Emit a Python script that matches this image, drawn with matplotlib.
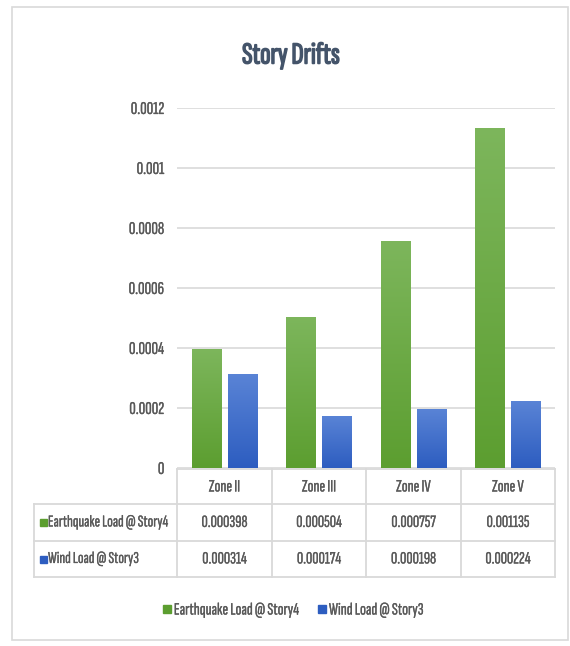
import matplotlib

matplotlib.use("Agg")
import matplotlib.patheffects as pe  # noqa: E402
import matplotlib.pyplot as plt  # noqa: E402
import numpy as np  # noqa: E402
from matplotlib.colors import LinearSegmentedColormap  # noqa: E402
from matplotlib.lines import Line2D  # noqa: E402
from matplotlib.patches import Rectangle  # noqa: E402
from matplotlib.transforms import blended_transform_factory  # noqa: E402

zones = ["Zone II", "Zone III", "Zone IV", "Zone V"]
earthquake = [0.000398, 0.000504, 0.000757, 0.001135]
wind = [0.000314, 0.000174, 0.000198, 0.000224]
series_names = ["Earthquake Load @ Story4", "Wind Load @ Story3"]
y_ticks = [0, 0.0002, 0.0004, 0.0006, 0.0008, 0.001, 0.0012]
y_tick_labels = ["0", "0.0002", "0.0004", "0.0006", "0.0008", "0.001", "0.0012"]

GREEN_TOP, GREEN_BOTTOM = "#7db65c", "#5c9e30"
BLUE_TOP, BLUE_BOTTOM = "#5a84d6", "#2d5dc0"
TEXT = "#595959"
TITLE = "#44546a"
GRID = "#d9d9d9"
FS = 12.5

plt.rcParams["font.family"] = ["Sofia Sans Extra Condensed", "DejaVu Sans"]

# the condensed face is light, so thicken the glyphs a little
THICK = [pe.withStroke(linewidth=0.2, foreground=TEXT)]
TITLE_THICK = [pe.withStroke(linewidth=1.1, foreground=TITLE)]

W, H = 570, 646
fig = plt.figure(figsize=(W / 100, H / 100), dpi=100, facecolor="white")


def fx(px):
    return px / W


def fy(py):
    return 1 - py / H


def shade(ax, bars, top, bottom):
    # vertical gradient fill clipped to each bar
    cmap = LinearSegmentedColormap.from_list("grad", [bottom, top])
    grad = np.linspace(0, 1, 256).reshape(-1, 1)
    for bar in bars:
        x0, y0 = bar.get_x(), bar.get_y()
        w, h = bar.get_width(), bar.get_height()
        im = ax.imshow(grad, cmap=cmap, origin="lower", aspect="auto",
                       extent=(x0, x0 + w, y0, y0 + h),
                       interpolation="bilinear", zorder=bar.get_zorder() + 0.1)
        im.set_clip_path(bar)


# outer chart frame
fig.add_artist(Rectangle((fx(12), fy(640)), fx(568) - fx(12), fy(7) - fy(640),
                         transform=fig.transFigure, fill=False,
                         edgecolor=GRID, linewidth=1.2))

ax = fig.add_axes([fx(177), fy(468), fx(555) - fx(177), 360 / H])
x = np.arange(len(zones))
width, offset = 0.31, 0.19
eq_bars = ax.bar(x - offset, earthquake, width, color=GREEN_BOTTOM, zorder=3)
wind_bars = ax.bar(x + offset, wind, width, color=BLUE_BOTTOM, zorder=3)
shade(ax, eq_bars, GREEN_TOP, GREEN_BOTTOM)
shade(ax, wind_bars, BLUE_TOP, BLUE_BOTTOM)

ax.set_xlim(-0.5, len(zones) - 0.5)
ax.set_ylim(0, 0.0012)
ax.set_yticks(y_ticks)
ax.set_yticklabels(y_tick_labels)
ax.set_xticks([])
ax.tick_params(axis="y", length=0, pad=9, labelsize=FS + 0.5, labelcolor=TEXT)
for lbl in ax.get_yticklabels():
    lbl.set_path_effects(THICK)
ax.yaxis.grid(True, color=GRID, linewidth=1.2, zorder=0)
ax.set_axisbelow(True)
for spine in ax.spines.values():
    spine.set_visible(False)

fig.text(fx(291), fy(56), "Story Drifts", ha="center", va="center",
         fontsize=22, color=TITLE, path_effects=TITLE_THICK)

# data table under the plot
col_tf = blended_transform_factory(ax.transData, fig.transFigure)
row_tops = [469, 504, 541, 577]
line_kw = dict(color=GRID, linewidth=1.3)
ax_right = len(zones) - 0.5

fig.add_artist(Line2D([-0.5, ax_right], [fy(469)] * 2, transform=col_tf, **line_kw))
for py in row_tops[1:]:
    fig.add_artist(Line2D([-0.5, ax_right], [fy(py)] * 2, transform=col_tf, **line_kw))
    fig.add_artist(Line2D([fx(34), fx(177)], [fy(py)] * 2,
                          transform=fig.transFigure, **line_kw))
for bx in np.arange(-0.5, len(zones), 1.0):
    fig.add_artist(Line2D([bx, bx], [fy(469), fy(577)], transform=col_tf, **line_kw))
fig.add_artist(Line2D([fx(34), fx(34)], [fy(504), fy(577)],
                      transform=fig.transFigure, **line_kw))

cell_kw = dict(ha="center", va="center", fontsize=FS, color=TEXT, path_effects=THICK)
for i, zone in enumerate(zones):
    fig.text(i, fy(487), zone, transform=col_tf, **cell_kw)
    fig.text(i, fy(522.5), f"{earthquake[i]:.6f}", transform=col_tf, **cell_kw)
    fig.text(i, fy(559), f"{wind[i]:.6f}", transform=col_tf, **cell_kw)

for name, color, cy in zip(series_names, [GREEN_BOTTOM, BLUE_BOTTOM], [522.5, 559]):
    fig.add_artist(Rectangle((fx(40), fy(cy + 3.5)), fx(7), 7 / H,
                             transform=fig.transFigure, color=color))
    fig.text(fx(48), fy(cy), name, ha="left", va="center", fontsize=FS - 0.5,
             color=TEXT, path_effects=THICK)

handles = [Line2D([], [], marker="s", linestyle="none", markersize=6,
                  color=c) for c in (GREEN_BOTTOM, BLUE_BOTTOM)]
leg = fig.legend(handles, series_names, loc="center", bbox_to_anchor=(fx(293), fy(610)),
                 ncol=2, frameon=False, handlelength=0.5, handletextpad=0.15,
                 columnspacing=1.1, fontsize=FS, labelcolor=TEXT)
for t in leg.get_texts():
    t.set_path_effects(THICK)

fig.savefig("out.png", dpi=100, facecolor="white")
